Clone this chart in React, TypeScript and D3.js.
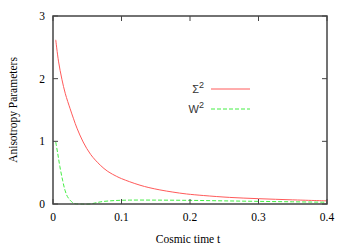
import React from "react";
import * as d3 from "d3";

const sigmaT = [0.004, 0.008, 0.013, 0.018, 0.025, 0.03, 0.035, 0.044, 0.055, 0.069, 0.08, 0.093, 0.1, 0.112, 0.127, 0.14, 0.156, 0.175, 0.195, 0.22, 0.258, 0.3, 0.35, 0.4];
const sigmaV = [2.62, 2.28, 1.99, 1.76, 1.52, 1.36, 1.21, 0.99, 0.79, 0.62, 0.52, 0.44, 0.405, 0.355, 0.3, 0.262, 0.225, 0.19, 0.16, 0.135, 0.105, 0.085, 0.066, 0.05];
const wT = [0.004, 0.007, 0.01, 0.014, 0.0175, 0.021, 0.025, 0.029, 0.032, 0.04, 0.054, 0.065, 0.073, 0.09, 0.112, 0.15, 0.2, 0.25, 0.3, 0.35, 0.4];
const wV = [0.99, 0.8, 0.6, 0.38, 0.22, 0.12, 0.06, 0.02, 0.005, 0, 0, 0.025, 0.04, 0.055, 0.062, 0.062, 0.058, 0.05, 0.042, 0.035, 0.028];
const xTicks = [0, 0.1, 0.2, 0.3, 0.4];
const yTicks = [0, 1, 2, 3];
const xTickLabels = ["0", "0.1", "0.2", "0.3", "0.4"];
const yTickLabels = ["0", "1", "2", "3"];

export default function App() {
  const W = 350, H = 245;
  const L = 53, R = 327, T = 16, B = 204;
  const x = d3.scaleLinear().domain([0, 0.4]).range([L, R]);
  const y = d3.scaleLinear().domain([0, 3]).range([B, T]);
  const line = d3.line<[number, number]>().x(d => x(d[0])).y(d => y(d[1])).curve(d3.curveCatmullRom.alpha(0.5));
  const sig = sigmaT.map((t, i) => [t, sigmaV[i]] as [number, number]);
  const wd = wT.map((t, i) => [t, wV[i]] as [number, number]);
  const frame = "#444";
  const tickFont = "'Liberation Serif', 'Times New Roman', serif";
  const sans = "'Liberation Sans', Arial, sans-serif";
  const fs = 11.5;
  return (
    <svg width={W} height={H} style={{ position: "absolute", left: 0, top: 0 }}>
      <rect x={0} y={0} width={W} height={H} fill="#fff" />
      <path d={line(sig) || ""} fill="none" stroke="#ff5a5a" strokeWidth={1} />
      <path d={line(wd) || ""} fill="none" stroke="#44ee44" strokeWidth={1} strokeDasharray="4,2" />
      {xTicks.map((t, i) => (
        <g key={"xt" + i}>
          <line x1={x(t)} x2={x(t)} y1={B} y2={B - 5} stroke={frame} strokeWidth={1} />
          <line x1={x(t)} x2={x(t)} y1={T} y2={T + 5} stroke={frame} strokeWidth={1} />
          <text x={x(t)} y={221} style={{ fontFamily: tickFont, fontSize: fs }} textAnchor="middle" fill="#000">{xTickLabels[i]}</text>
        </g>
      ))}
      {yTicks.map((v, i) => (
        <g key={"yt" + i}>
          <line x1={L} x2={L + 5} y1={y(v)} y2={y(v)} stroke={frame} strokeWidth={1} />
          <line x1={R} x2={R - 5} y1={y(v)} y2={y(v)} stroke={frame} strokeWidth={1} />
          <text x={45} y={y(v) + 4} style={{ fontFamily: tickFont, fontSize: fs }} textAnchor="end" fill="#000">{yTickLabels[i]}</text>
        </g>
      ))}
      <rect x={L} y={T} width={R - L} height={B - T} fill="none" stroke={frame} strokeWidth={1.5} />
      <text x={188} y={243} style={{ fontFamily: tickFont, fontSize: fs }} textAnchor="middle" fill="#000">Cosmic time t</text>
      <text transform="translate(17,110) rotate(-90)" style={{ fontFamily: tickFont, fontSize: fs }} textAnchor="middle" fill="#000">Anisotropy Parameters</text>
      <text x={204} y={93} style={{ fontFamily: sans, fontSize: 11 }} textAnchor="end" fill="#333">
        Σ<tspan dy={-5} style={{ fontSize: 9 }}>2</tspan>
      </text>
      <line x1={211} x2={250} y1={89} y2={89} stroke="#ff5a5a" strokeWidth={1} />
      <text x={204} y={113} style={{ fontFamily: sans, fontSize: 11 }} textAnchor="end" fill="#333">
        W<tspan dy={-5} style={{ fontSize: 9 }}>2</tspan>
      </text>
      <line x1={211} x2={250} y1={109} y2={109} stroke="#44ee44" strokeWidth={1} strokeDasharray="4,2" />
    </svg>
  );
}
